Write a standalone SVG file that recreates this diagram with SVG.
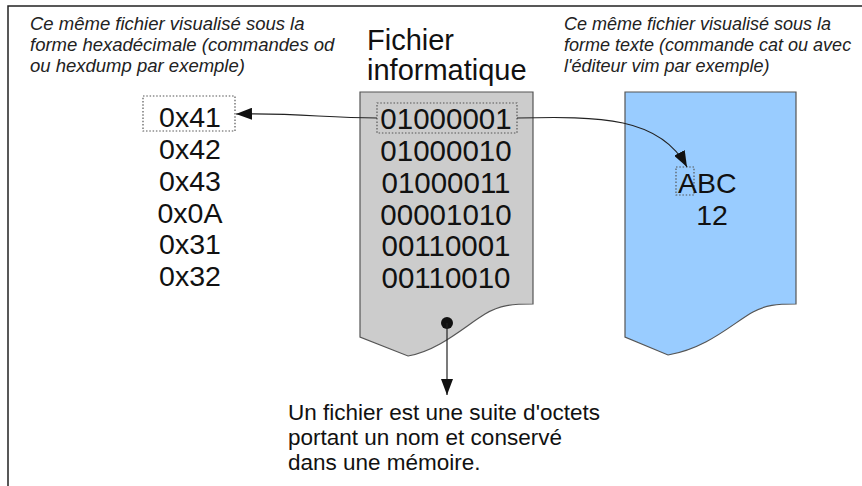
<svg xmlns="http://www.w3.org/2000/svg" width="862" height="486" viewBox="0 0 862 486">
<style>
  .it { font-family: "Liberation Sans", Arial, sans-serif; font-style: italic; font-size: 18.5px; fill: #222; }
  .itr { font-family: "Liberation Sans", Arial, sans-serif; font-style: italic; font-size: 18px; fill: #222; }
  .big { font-family: "Liberation Sans", Arial, sans-serif; font-size: 28.5px; fill: #111; }
  .bits { font-family: "Liberation Sans", Arial, sans-serif; font-size: 29.5px; fill: #111; }
  .title { font-family: "Liberation Sans", Arial, sans-serif; font-size: 29px; fill: #111; }
  .body { font-family: "Liberation Sans", Arial, sans-serif; font-size: 22.5px; fill: #111; }
  .doc { stroke: #555; stroke-width: 1.2; }
  .dot { fill: none; stroke: #555; stroke-width: 1.2; stroke-dasharray: 1.5 1.8; }
  .conn { fill: none; stroke: #222; stroke-width: 1.2; }
</style>
<defs>
  <marker id="ah" viewBox="0 0 16 12" refX="16" refY="6" markerWidth="16" markerHeight="12" markerUnits="userSpaceOnUse" orient="auto">
    <path d="M0,0 L16,6 L0,12 Z" fill="#111"/>
  </marker>
</defs>
<rect width="862" height="486" fill="#ffffff"/>
<g id="frame">
  <path d="M8,486 L8,6 L862,6" fill="none" stroke="#222" stroke-width="1.5"/>
</g>
<g id="hex-caption">
  <text class="it" x="30" y="30">Ce même fichier visualisé sous la</text>
  <text class="it" x="30" y="51">forme hexadécimale (commandes od</text>
  <text class="it" x="30" y="72">ou hexdump par exemple)</text>
</g>
<g id="text-caption">
  <text class="itr" x="564" y="30">Ce même fichier visualisé sous la</text>
  <text class="itr" x="564" y="51">forme texte (commande cat ou avec</text>
  <text class="itr" x="564" y="72">l'éditeur vim par exemple)</text>
</g>
<g id="title">
  <text class="title" x="367" y="50">Fichier</text>
  <text class="title" x="367" y="80">informatique</text>
</g>
<g id="binary-file">
  <path class="doc" fill="#cccccc" d="M360,92 L533,92 L533,304 C512,304 500,305 485,314 C465,326 440,350 408,356 L360,337 Z"/>
  <rect class="dot" x="377" y="103" width="140" height="30"/>
  <g class="bits" text-anchor="middle">
    <text x="446" y="129">01000001</text>
    <text x="446" y="161">01000010</text>
    <text x="446" y="193">01000011</text>
    <text x="446" y="225">00001010</text>
    <text x="446" y="256">00110001</text>
    <text x="446" y="288">00110010</text>
  </g>
  <circle cx="447" cy="323" r="6" fill="#111"/>
</g>
<g id="hex-view">
  <rect class="dot" x="143" y="96" width="92" height="35"/>
  <g class="big" text-anchor="middle">
    <text x="190" y="127">0x41</text>
    <text x="190" y="159">0x42</text>
    <text x="190" y="191">0x43</text>
    <text x="190" y="223">0x0A</text>
    <text x="190" y="254">0x31</text>
    <text x="190" y="286">0x32</text>
  </g>
</g>
<g id="text-view">
  <path class="doc" fill="#99ccff" d="M625,92 L796,92 L796,304 C776,304 766,305 753,312 C733,323 708,348 668,355 L625,337 Z"/>
  <rect class="dot" x="676" y="167" width="18" height="28"/>
  <text class="big" x="678" y="193">ABC</text>
  <text class="big" x="712" y="225" text-anchor="middle">12</text>
</g>
<g id="note">
  <text class="body" x="288" y="420">Un fichier est une suite d'octets</text>
  <text class="body" x="288" y="445">portant un nom et conservé</text>
  <text class="body" x="288" y="470">dans une mémoire.</text>
</g>
<g id="connectors">
  <path class="conn" marker-end="url(#ah)" d="M377,118 C325,118 300,113 236,114"/>
  <path class="conn" marker-end="url(#ah)" d="M517,118 C600,116 660,117 687,167"/>
  <path class="conn" marker-end="url(#ah)" d="M447,323 L447,395"/>
</g>
</svg>
